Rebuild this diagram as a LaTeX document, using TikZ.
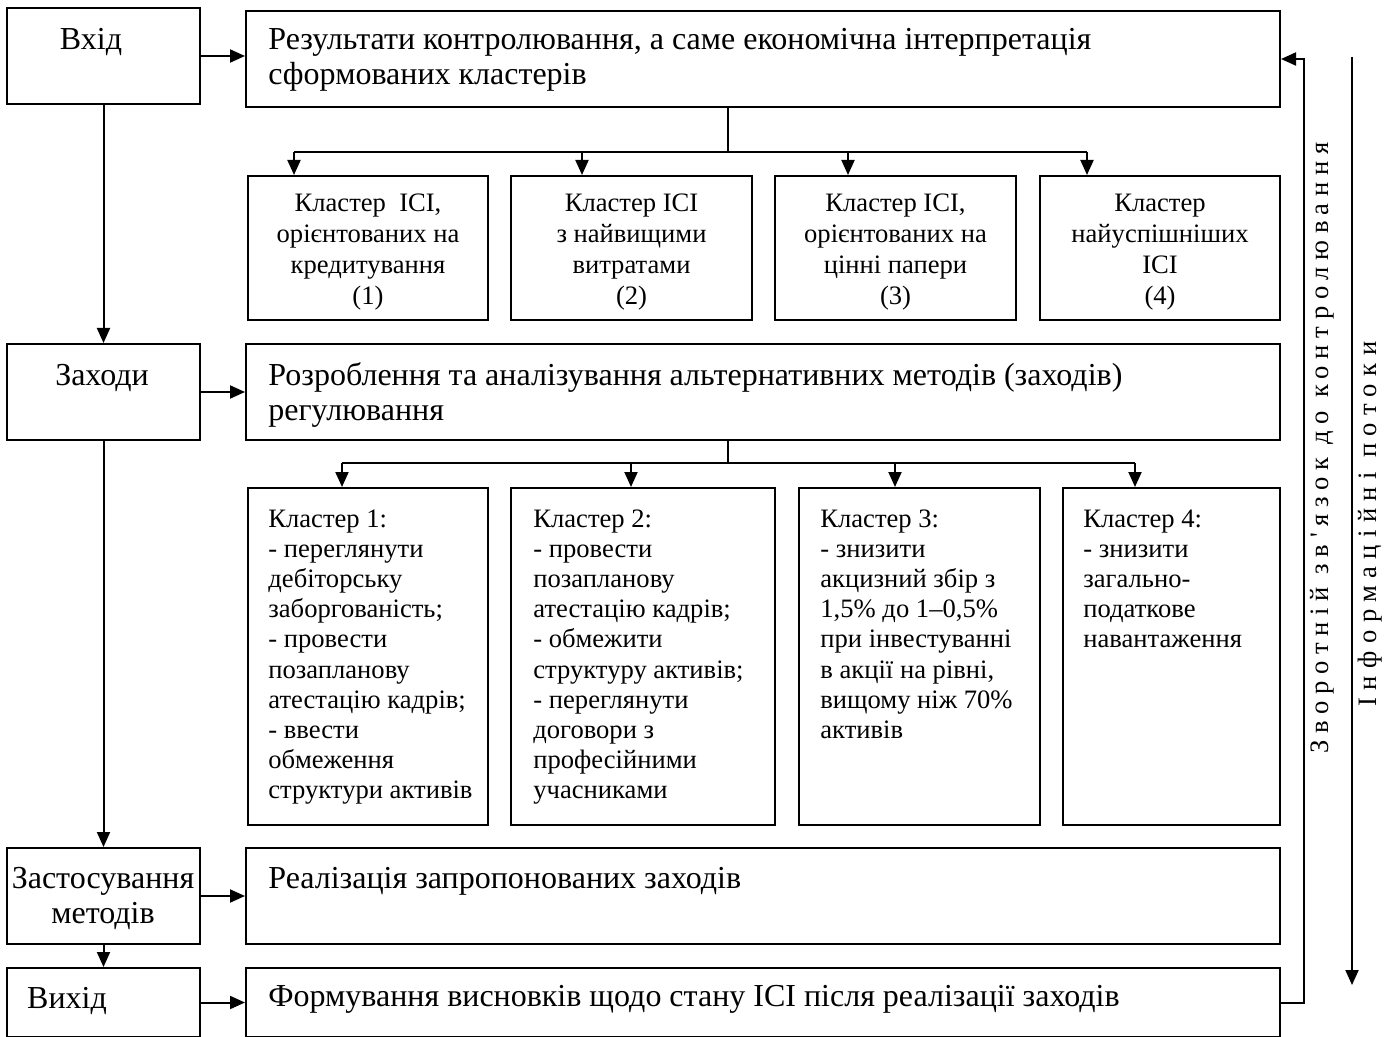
\documentclass[tikz,border=0pt]{standalone}
\usepackage{fontspec}
\setmainfont{Liberation Serif}
\newfontfamily\spacedA[LetterSpace=25]{Liberation Serif}
\newfontfamily\spacedB[LetterSpace=28]{Liberation Serif}
\usetikzlibrary{arrows.meta,calc,fit}
\newcommand\myBig{\fontsize{16}{17.5}\selectfont}
\newcommand\mySmall{\fontsize{13.3}{15.1}\selectfont}
\tikzset{
  boxshape/.style={draw, line width=1pt, inner sep=0pt},
  arr/.style={line width=1pt, -{Triangle[length=7.5pt,width=6.5pt]}},
  conn/.style={line width=1pt},
  bigtxt/.style={inner sep=0pt, font=\myBig},
  smalltxt/.style={inner sep=0pt, font=\mySmall},
}
\begin{document}
\begin{tikzpicture}[x=0.5pt,y=-0.5pt]
\useasboundingbox (0,0) rectangle (1390,1037);
\clip (0,0) rectangle (1390,1037);
% left column
\node[boxshape, fit={(7,8) (200,104)}] (in) {};
\node[boxshape, fit={(7,344) (200,440)}] (meas) {};
\node[boxshape, fit={(7,848) (200,944)}] (apply) {};
\node[boxshape, fit={(7,968) (200,1037)}] (out) {};
% right column
\node[boxshape, fit={(246,11) (1280,107)}] (res) {};
\node[boxshape, fit={(246,344) (1280,440)}] (dev) {};
\node[boxshape, fit={(246,848) (1280,944)}] (real) {};
\node[boxshape, fit={(246,968) (1280,1037)}] (form) {};
% row 1 clusters
\node[boxshape, fit={(248,176) (488,320)}] (c1) {};
\node[boxshape, fit={(511,176) (752,320)}] (c2) {};
\node[boxshape, fit={(775,176) (1016,320)}] (c3) {};
\node[boxshape, fit={(1040,176) (1280,320)}] (c4) {};
% row 2 clusters
\node[boxshape, fit={(248,488) (488,825)}] (m1) {};
\node[boxshape, fit={(511,488) (775,825)}] (m2) {};
\node[boxshape, fit={(799,488) (1040,825)}] (m3) {};
\node[boxshape, fit={(1063,488) (1280,825)}] (m4) {};

% texts left
\node[bigtxt, anchor=base] (tin) at (91,50) {Вхід};
\node[bigtxt, anchor=base] (tmeas) at (102,385) {Заходи};
\node[bigtxt, anchor=base] (tapply) at (103,888) {\parbox[t]{100pt}{\centering Застосування\\методів}};
\node[bigtxt, anchor=base] (tout) at (67,1008) {Вихід};
% texts right
\node[bigtxt, anchor=base west] (tres) at (268,50) {\parbox[t]{500pt}{\raggedright Результати контролювання, а саме економічна інтерпретація\\сформованих кластерів}};
\node[bigtxt, anchor=base west] (tdev) at (268,385) {\parbox[t]{500pt}{\raggedright Розроблення та аналізування альтернативних методів (заходів)\\регулювання}};
\node[bigtxt, anchor=base west] (treal) at (268,888) {Реалізація запропонованих заходів};
\node[bigtxt, anchor=base west] (tform) at (268,1006) {Формування висновків щодо стану ІСІ після реалізації заходів};
% row 1 texts
\node[smalltxt, anchor=base] (tc1) at (368,212) {\parbox[t]{118pt}{\centering\baselineskip=15.5pt Кластер\ \ ІСІ,\\орієнтованих на\\кредитування\\(1)}};
\node[smalltxt, anchor=base] (tc2) at (631.5,212) {\parbox[t]{118pt}{\centering\baselineskip=15.5pt Кластер ІСІ\\з найвищими\\витратами\\(2)}};
\node[smalltxt, anchor=base] (tc3) at (895.5,212) {\parbox[t]{118pt}{\centering\baselineskip=15.5pt Кластер ІСІ,\\орієнтованих на\\цінні папери\\(3)}};
\node[smalltxt, anchor=base] (tc4) at (1160,212) {\parbox[t]{118pt}{\centering\baselineskip=15.5pt Кластер\\найуспішніших\\ІСІ\\(4)}};
% row 2 texts
\node[smalltxt, anchor=base west] (tm1) at (268,527) {\parbox[t]{115pt}{\raggedright Кластер 1:\\- переглянути\\дебіторську\\заборгованість;\\- провести\\позапланову\\атестацію кадрів;\\- ввести\\обмеження\\структури активів}};
\node[smalltxt, anchor=base west] (tm2) at (533,527) {\parbox[t]{115pt}{\raggedright Кластер 2:\\- провести\\позапланову\\атестацію кадрів;\\- обмежити\\структуру активів;\\- переглянути\\договори з\\професійними\\учасниками}};
\node[smalltxt, anchor=base west] (tm3) at (820,527) {\parbox[t]{115pt}{\raggedright Кластер 3:\\- знизити\\акцизний збір з\\1,5\% до 1–0,5\%\\при інвестуванні\\в акції на рівні,\\вищому ніж 70\%\\активів}};
\node[smalltxt, anchor=base west] (tm4) at (1083,527) {\parbox[t]{100pt}{\raggedright Кластер 4:\\- знизити\\загально-\\податкове\\навантаження}};

% vertical labels
\node[inner sep=0pt, rotate=90, font={\spacedA\mySmall}] (fbtxt) at (1322,448) {Зворотній зв'язок до контролювання};
\node[inner sep=0pt, rotate=90, font={\spacedB\mySmall}] (infotxt) at (1370,524) {Інформаційні потоки};

% connectors: left chain
\draw[arr] (in.south) -- (meas.north);
\draw[arr] (meas.south) -- (apply.north);
\draw[arr] (apply.south) -- (out.north);
% horizontal
\draw[arr] (in.east) -- (in.east -| res.west);
\draw[arr] (meas.east) -- (meas.east -| dev.west);
\draw[arr] (apply.east) -- (apply.east -| real.west);
\draw[arr] (out.east) -- (out.east -| form.west);
% bus row 1
\coordinate (b1) at (728,153);
\draw[conn] (res.south -| b1) -- (b1);
\draw[conn] ($(c1.north west)+(47,-23)$) -- ($(c4.north west)+(48,-23)$);
\draw[arr] ($(c1.north west)+(47,-23)$) -- ($(c1.north west)+(47,0)$);
\draw[arr] ($(c2.north west)+(72,-23)$) -- ($(c2.north west)+(72,0)$);
\draw[arr] ($(c3.north west)+(74,-23)$) -- ($(c3.north west)+(74,0)$);
\draw[arr] ($(c4.north west)+(48,-23)$) -- ($(c4.north west)+(48,0)$);
% bus row 2
\coordinate (b2) at (728,464);
\draw[conn] (dev.south -| b2) -- (b2);
\draw[conn] ($(m1.north west)+(95,-24)$) -- ($(m4.north west)+(73,-24)$);
\draw[arr] ($(m1.north west)+(95,-24)$) -- ($(m1.north west)+(95,0)$);
\draw[arr] ($(m2.north west)+(121,-24)$) -- ($(m2.north west)+(121,0)$);
\draw[arr] ($(m3.north west)+(97,-24)$) -- ($(m3.north west)+(97,0)$);
\draw[arr] ($(m4.north west)+(73,-24)$) -- ($(m4.north west)+(73,0)$);
% feedback
\draw[arr] (form.east) -- ++(23,0) |- (res.east);
% information flow
\coordinate (infoTop) at (1352,57);
\coordinate (infoBot) at (1352,985);
\draw[arr] (infoTop) -- (infoBot);
\end{tikzpicture}
\end{document}
